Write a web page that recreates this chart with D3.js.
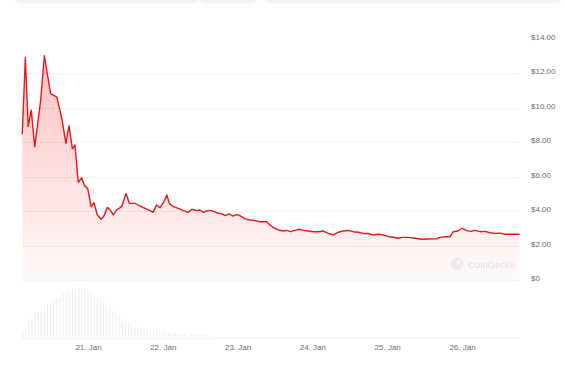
<!DOCTYPE html>
<html><head><meta charset="utf-8">
<script src="https://cdn.jsdelivr.net/npm/d3@7"></script>
<style>
html,body{margin:0;padding:0;background:#fff;overflow:hidden}
svg{display:block;font-family:"Liberation Sans",Arial,sans-serif}
</style></head>
<body>
<svg id="chart" width="565" height="367"></svg>
<script>
// hours since 20 Jan 00:00
const priceHours = [2.9,3.9,4.8,5.8,6.9,8.8,10.0,10.9,12.0,14.0,15.6,16.9,17.9,19.0,19.8,20.9,22.0,22.8,23.9,25.0,25.9,27.0,28.2,29.0,30.2,31.1,32.1,33.2,34.8,36.2,37.3,39.1,40.7,42.3,43.9,44.9,46.0,47.1,48.2,49.3,50.1,51.4,53.0,54.6,56.2,57.3,58.9,59.9,61.0,62.3,63.7,65.3,66.9,68.0,69.3,70.4,71.7,73.0,74.4,76.0,77.6,79.2,81.3,82.4,83.5,85.1,86.7,87.8,89.1,90.4,91.7,93.1,94.7,96.3,97.9,99.5,101.1,102.7,104.3,105.9,107.5,109.1,110.7,112.3,113.9,115.5,117.1,118.7,120.4,121.4,123.6,124.7,126.8,128.9,131.1,133.2,135.9,137.0,138.6,140.2,141.2,142.6,144.1,145.5,146.9,148.2,149.8,151.4,153.0,154.6,156.2,157.8,160.0,162.5];
const prices = [8.45,12.9,8.9,9.85,7.73,10.4,13.0,12.0,10.8,10.6,9.37,7.92,8.95,7.6,7.83,5.66,5.93,5.5,5.31,4.25,4.48,3.77,3.52,3.67,4.21,4.06,3.77,4.06,4.25,5.02,4.44,4.44,4.29,4.15,4.02,3.92,4.35,4.19,4.48,4.93,4.44,4.25,4.15,4.02,3.92,4.1,4.02,4.06,3.92,4.02,4.02,3.9,3.83,3.73,3.83,3.71,3.79,3.71,3.54,3.48,3.44,3.38,3.38,3.19,3.03,2.9,2.84,2.88,2.8,2.88,2.94,2.88,2.84,2.8,2.8,2.84,2.7,2.61,2.77,2.84,2.88,2.8,2.77,2.7,2.7,2.61,2.65,2.61,2.51,2.49,2.42,2.47,2.47,2.42,2.36,2.38,2.39,2.47,2.51,2.51,2.8,2.84,3.0,2.86,2.82,2.88,2.8,2.82,2.74,2.7,2.72,2.65,2.65,2.65];
// hourly volume (arbitrary $M) starting at hour 3
const volumeStartHour = 3;
const volumes = [0.7,1.0,1.5,1.9,2.4,2.5,2.8,3.0,3.2,3.4,3.7,3.9,4.0,4.3,4.4,4.6,4.7,4.9,5.0,5.0,4.9,4.7,4.4,4.2,3.9,3.6,3.4,3.1,2.9,2.6,2.4,2.1,1.8,1.5,1.4,1.2,1.0,1.0,0.8,0.7,0.6,0.5,0.5,0.5,0.4,0.5,0.4,0.4,0.3,0.4,0.3,0.3,0.3,0.2,0.3,0.2,0.2,0.2,0.2,0.2,0.1,0.1,0.1,0.1];
const yTickValues = [0,2,4,6,8,10,12,14];
const yTickLabels = ["$0","$2.00","$4.00","$6.00","$8.00","$10.00","$12.00","$14.00"];
const xTickHours = [24,48,72,96,120,144];
const xTickLabels = ["21. Jan","22. Jan","23. Jan","24. Jan","25. Jan","26. Jan"];

const svg = d3.select("#chart");
const t0 = new Date(2024,0,20,0,0,0);
const toDate = h => new Date(t0.getTime() + h*3600e3);

const x = d3.scaleTime().domain([toDate(24), toDate(144)]).range([88, 462]);
const y = d3.scaleLinear().domain([0,14]).range([280, 38.5]);
const yv = d3.scaleLinear().domain([0,5]).range([337, 287]);

const price = priceHours.map((h,i)=>({t:toDate(h), v:prices[i]}));
const vol = volumes.map((v,i)=>({t:toDate(volumeStartHour+i), v}));

// top cut-off controls
const defs = svg.append("defs");
const f = defs.append("filter").attr("id","sh").attr("x","-5%").attr("y","-50%").attr("width","110%").attr("height","300%");
f.append("feDropShadow").attr("dx",0).attr("dy",0.5).attr("stdDeviation",0.8).attr("flood-color","#000").attr("flood-opacity",0.12);
[[16,181],[200,56],[265,296]].forEach(([a,w])=>{
  svg.append("rect").attr("x",a).attr("y",-10).attr("width",w).attr("height",11.5).attr("rx",4)
    .attr("fill","#f4f4f4").attr("filter","url(#sh)");
});

// gridlines
const grid = svg.append("g");
grid.selectAll("line").data(yTickValues.filter(v=>v<14)).join("line")
  .attr("x1",22).attr("x2",519).attr("y1",d=>Math.round(y(d))+0.5).attr("y2",d=>Math.round(y(d))+0.5)
  .attr("stroke","#f2f2f2").attr("stroke-width",1);

// volume bars
svg.append("g").selectAll("rect").data(vol).join("rect")
  .attr("x",d=>x(d.t)-0.6).attr("width",1.2)
  .attr("y",d=>yv(d.v)).attr("height",d=>337-yv(d.v))
  .attr("fill","#f0f0f0");

// x axis baseline
svg.append("line").attr("x1",22).attr("x2",519).attr("y1",338.5).attr("y2",338.5).attr("stroke","#f2f2f2");

// area gradient
const g = defs.append("linearGradient").attr("id","ag").attr("gradientUnits","userSpaceOnUse")
  .attr("x1",0).attr("y1",50).attr("x2",0).attr("y2",282);
g.append("stop").attr("offset","0%").attr("stop-color","#ff2b2b").attr("stop-opacity",0.3);
g.append("stop").attr("offset","100%").attr("stop-color","#ff2b2b").attr("stop-opacity",0.02);

svg.append("path").datum(price)
  .attr("d", d3.area().x(d=>x(d.t)).y0(y(0)).y1(d=>y(d.v)))
  .attr("fill","url(#ag)");
svg.append("path").datum(price)
  .attr("d", d3.line().x(d=>x(d.t)).y(d=>y(d.v)))
  .attr("fill","none").attr("stroke","#e31a1c").attr("stroke-width",1.4).attr("stroke-linejoin","round");

// watermark
const wm = svg.append("g").attr("opacity",0.9);
wm.append("circle").attr("cx",457).attr("cy",264).attr("r",6.5).attr("fill","#ececec");
wm.append("circle").attr("cx",459).attr("cy",262).attr("r",2).attr("fill","#f8f8f8");
wm.append("text").attr("x",468).attr("y",267.5).attr("font-size",9.5).attr("fill","#dcdcdc").text("CoinGecko");

// y axis
const yAxis = d3.axisRight(y).tickValues(yTickValues)
  .tickFormat((d,i)=>yTickLabels[i]).tickSize(0).tickPadding(0);
const ya = svg.append("g").attr("transform","translate(531,-2)").call(yAxis);
ya.select(".domain").remove();
ya.selectAll("text").attr("font-size",8).attr("fill","#6e6e6e").attr("font-family","'Liberation Sans',Arial,sans-serif");

// x axis
const xAxis = d3.axisBottom(x).tickValues(xTickHours.map(toDate))
  .tickFormat((d,i)=>xTickLabels[i]).tickSize(0).tickPadding(0);
const xa = svg.append("g").attr("transform","translate(0,344)").call(xAxis);
xa.select(".domain").remove();
xa.selectAll("text").attr("font-size",8).attr("fill","#6e6e6e").attr("font-family","'Liberation Sans',Arial,sans-serif");
</script>
</body></html>
